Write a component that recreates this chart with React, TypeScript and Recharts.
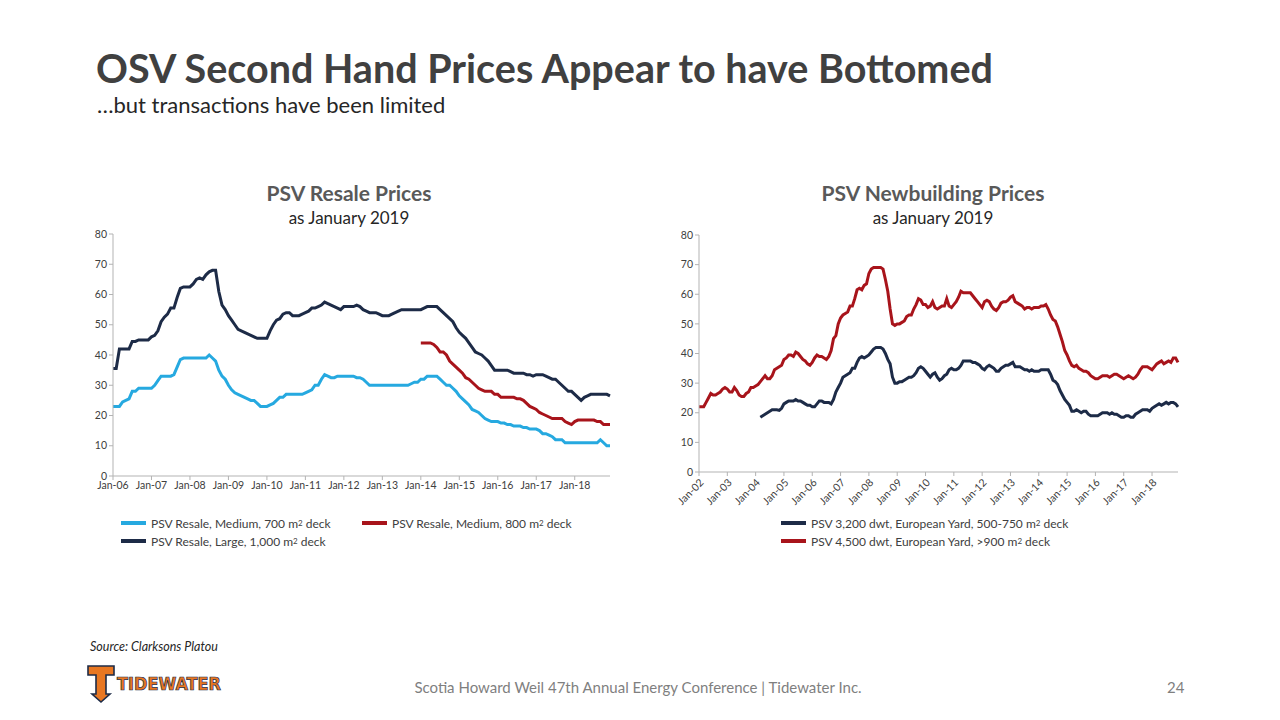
import { LineChart, Line, XAxis, YAxis } from 'recharts'

const MONTHS = ['Jan', 'Feb', 'Mar', 'Apr', 'May', 'Jun', 'Jul', 'Aug', 'Sep', 'Oct', 'Nov', 'Dec']
const resaleYears = [2006, 2007, 2008, 2009, 2010, 2011, 2012, 2013, 2014, 2015, 2016, 2017, 2018]
const newbuildYears = [2002, 2003, 2004, 2005, 2006, 2007, 2008, 2009, 2010, 2011, 2012, 2013, 2014, 2015, 2016, 2017, 2018]
const yTicks = [0, 10, 20, 30, 40, 50, 60, 70, 80]

const monthLabels = (years: number[]) =>
  years.flatMap((y) => MONTHS.map((m) => `${m}-${String(y).slice(2)}`))

// PSV resale prices, US$m, monthly Jan-06 .. Dec-18
const resaleMedium700 = [
  23, 23, 23, 24.5, 25, 25.5, 28, 28, 29, 29, 29, 29,
  29, 30, 31.5, 33, 33, 33, 33, 33.5, 36, 38.5, 39, 39,
  39, 39, 39, 39, 39, 39, 40, 39, 38, 35, 33, 32,
  30, 28.5, 27.5, 27, 26.5, 26, 25.5, 25, 25, 24, 23, 23,
  23, 23.5, 24, 25, 26, 26, 27, 27, 27, 27, 27, 27,
  27.5, 28, 28.5, 30, 30, 32, 33.5, 33, 32.5, 32.5, 33, 33,
  33, 33, 33, 33, 32.5, 32.5, 32, 31, 30, 30, 30, 30,
  30, 30, 30, 30, 30, 30, 30, 30, 30, 30.5, 31, 31,
  32, 32, 33, 33, 33, 33, 32, 31, 30, 30, 29, 28,
  26.5, 25.5, 24.5, 23.5, 22, 21.5, 21, 20, 19, 18.5, 18, 18,
  18, 17.5, 17.5, 17, 17, 16.5, 16.5, 16.5, 16, 16, 15.5, 15.5,
  15.5, 15, 14, 14, 13.5, 13, 12, 12, 12, 11, 11, 11,
  11, 11, 11, 11, 11, 11, 11, 11, 12, 11, 10, 10,
]
const resaleMedium800 = [
  ...Array(96).fill(null),
  44, 44, 44, 44, 43.5, 42.5, 41, 41, 40, 38, 37, 36,
  35, 34, 32.5, 32, 31, 30, 29, 28.5, 28, 28, 28, 27,
  27, 26, 26, 26, 26, 26, 25.5, 25.5, 25, 24, 23, 22.5,
  22, 21, 20.5, 20, 19.5, 19, 19, 19, 19, 18, 17.5, 17,
  18, 18.5, 18.5, 18.5, 18.5, 18.5, 18.5, 18, 18, 17, 17, 17,
]
const resaleLarge1000 = [
  35.5, 35.5, 42, 42, 42, 42, 44.5, 44.5, 45, 45, 45, 45,
  46, 46.5, 48, 51, 52.5, 53.5, 55.5, 55.5, 59, 62, 62.5, 62.5,
  62.5, 63.5, 65, 65.5, 65, 66.5, 67.5, 68, 68, 61, 56.5, 55,
  53, 51.5, 50, 48.5, 48, 47.5, 47, 46.5, 46, 45.5, 45.5, 45.5,
  45.5, 48, 50, 51.5, 52, 53.5, 54, 54, 53, 53, 53, 53.5,
  54, 54.5, 55.5, 55.5, 56, 56.5, 57.5, 57, 56.5, 56, 55.5, 55,
  56, 56, 56, 56, 56.5, 56, 55, 54.5, 54, 54, 54, 53.5,
  53, 53, 53, 53.5, 54, 54.5, 55, 55, 55, 55, 55, 55,
  55, 55.5, 56, 56, 56, 56, 55, 54, 53, 52, 51, 49,
  47.5, 46.5, 45.5, 44, 42.5, 41, 40.5, 40, 39, 38, 36.5, 35,
  35, 35, 35, 35, 34.5, 34, 34, 34, 34, 33.5, 33.5, 33,
  33.5, 33.5, 33.5, 33, 32.5, 32, 32, 31, 30, 29, 28, 28,
  27, 26, 25, 26, 26.5, 27, 27, 27, 27, 27, 27, 26.5,
]

// PSV newbuilding prices, US$m, monthly Jan-02 .. Dec-18
const nb3200 = [
  ...Array(26).fill(null),
  18.5, 19, 19.5, 20, 20.5, 21, 21, 21, 20.8, 21.5,
  23, 23.5, 24, 24, 24, 24.5, 24, 24, 23.5, 23, 22.5, 22.5,
  22, 22, 23, 24, 24, 23.5, 23.5, 23.5, 23, 24.5, 27, 28.5,
  30, 32, 32.5, 33, 33.5, 35, 35, 37, 38.5, 39, 38.5, 39,
  39.5, 40.5, 41.5, 42, 42, 42, 41.5, 40, 38, 36.5, 32, 30,
  30, 30.5, 30.5, 31, 31.5, 32, 32, 32.5, 33.5, 35, 35.5, 35,
  34, 33, 32, 33, 33.5, 32, 31, 31.5, 32.5, 33, 34.5, 35,
  34.5, 34.5, 35, 36, 37.5, 37.5, 37.5, 37.5, 37, 37, 36.5, 36,
  35, 34.5, 35.5, 36, 35.5, 35, 34, 34, 35, 35.5, 36, 36,
  36.5, 37, 35.5, 35.5, 35.5, 35, 34.5, 34.5, 34, 34.5, 34, 34,
  34, 34.5, 34.5, 34.5, 34.5, 33, 31, 30.5, 29.5, 27.5, 26, 24.5,
  23.5, 22.5, 20.5, 20.5, 21, 20.5, 20, 20.5, 20.5, 19.5, 19, 19,
  19, 19, 19.5, 20, 20, 20, 19.5, 20, 19.5, 19.5, 19, 18.5,
  18.5, 19, 19, 18.5, 18.5, 19.5, 20, 20.5, 21, 21, 21, 20.5,
  21.5, 22, 22.5, 23, 22.5, 23, 23.5, 23, 23.5, 23.5, 23, 22,
]
const nb4500 = [
  22, 22, 22, 23.5, 25, 26.5, 26, 26, 26.5, 27, 28, 28.5,
  28, 27, 27, 28.5, 27.5, 26, 25.5, 25.5, 26.5, 27, 28.5, 28.5,
  29, 29.5, 30.5, 31.5, 32.5, 31.5, 31.5, 32.5, 34.5, 35, 35.5, 36,
  38, 38.5, 39.5, 39.5, 39, 40.5, 40, 39, 38, 37.5, 36.5, 36,
  37, 38.5, 39.5, 39, 39, 38.5, 38, 39, 41, 45, 46, 50,
  52, 53, 53.5, 54, 56, 56, 58.5, 61.5, 62, 61.5, 63, 63.5,
  67, 68.5, 69, 69, 69, 69, 68.5, 65, 61, 55, 50, 49.5,
  50, 50, 50.5, 51, 52.5, 53, 53, 55, 56.5, 58.5, 58, 56.5,
  56.5, 55.5, 56, 57.5, 55.5, 55, 55.5, 56, 56, 58.5, 56, 55.5,
  56.5, 57.5, 59, 61, 60.5, 60.5, 60.5, 60.5, 59.5, 58.5, 57.5, 56.5,
  55.5, 57.5, 58, 57.5, 56, 55, 54.5, 55.5, 57, 57.5, 57.5, 58,
  59, 59.5, 57.5, 57, 56.5, 56, 55, 55.5, 55.5, 55, 55.5, 55.5,
  55.5, 56, 56, 56.5, 55, 53, 51.5, 51, 49, 46.5, 44, 41,
  39.5, 37.5, 36, 35.5, 36, 35, 34.5, 34, 34, 33.5, 32.5, 32,
  31.5, 31.5, 32, 32.5, 32.5, 32.5, 32, 32.5, 33, 33, 32.5, 32,
  31.5, 32, 32.5, 32, 31.5, 32, 33, 34.5, 35.5, 35.5, 35.5, 35,
  34.5, 35.5, 36.5, 37, 37.5, 36.5, 37, 37.5, 37, 38.5, 38.5, 37,
]

const resaleData = monthLabels(resaleYears).map((month, i) => ({
  month,
  medium700: resaleMedium700[i],
  medium800: resaleMedium800[i],
  large1000: resaleLarge1000[i],
}))
const newbuildData = monthLabels(newbuildYears).map((month, i) => ({
  month,
  nb3200: nb3200[i],
  nb4500: nb4500[i],
}))

const FONT = 'Lato, "Open Sans", sans-serif'
const CYAN = '#26a9e0'
const NAVY = '#1d2b47'
const RED = '#a8141b'
const ORANGE = '#e87722'
const AXIS = '#b3b3b3'
const TICK = { fontFamily: FONT, fontSize: 10.5, fill: '#404040' }

function ChartTitle({ x, title }: { x: number; title: string }) {
  return (
    <div style={{ position: 'absolute', left: x - 200, top: 180, width: 400, textAlign: 'center', fontFamily: FONT }}>
      <div style={{ fontSize: 21, fontWeight: 700, lineHeight: '26px', color: '#595959' }}>{title}</div>
      <div style={{ fontSize: 17, lineHeight: '24px', color: '#262626' }}>as January 2019</div>
    </div>
  )
}

function LegendItem({ x, y, color, children }: { x: number; y: number; color: string; children: React.ReactNode }) {
  return (
    <div style={{ position: 'absolute', left: x, top: y - 8, height: 16, display: 'flex', alignItems: 'center', fontFamily: FONT, fontSize: 12, color: '#404040', whiteSpace: 'pre' }}>
      <span style={{ display: 'inline-block', width: 25, height: 4, background: color, marginRight: 5 }} />
      {children}
    </div>
  )
}

const m2 = <>m<sup style={{ fontSize: 8, verticalAlign: 4 }}>2</sup></>

function Logo() {
  return (
    <svg width={145} height={42} style={{ position: 'absolute', left: 85, top: 663 }}>
      <path d="M3 3 H29 V12 H21 V31 H25 L16 39 L7 31 H11 V12 H3 Z" fill={ORANGE} stroke={NAVY} strokeWidth={1.6} />
      <text x={32} y={27} textLength={104} lengthAdjust="spacingAndGlyphs" fontFamily="'DejaVu Sans Condensed', 'DejaVu Sans', sans-serif" fontWeight={700} fontSize={18} fill={ORANGE} stroke={NAVY} strokeWidth={0.7}>TIDEWATER</text>
    </svg>
  )
}

export default function App() {
  return (
    <div style={{ position: 'absolute', left: 0, top: 0, width: 1280, height: 720, background: '#fff', overflow: 'hidden' }}>
      <div style={{ position: 'absolute', left: 96, top: 44, fontFamily: FONT, fontWeight: 700, fontSize: 39.5, color: '#404040', whiteSpace: 'nowrap' }}>
        OSV Second Hand Prices Appear to have Bottomed
      </div>
      <div style={{ position: 'absolute', left: 97, top: 91, fontFamily: FONT, fontSize: 22, color: '#262626', whiteSpace: 'nowrap' }}>
        …but transactions have been limited
      </div>

      <ChartTitle x={349} title="PSV Resale Prices" />
      <ChartTitle x={933} title="PSV Newbuilding Prices" />

      <div style={{ position: 'absolute', left: 63, top: 224 }}>
        <LineChart width={552} height={282} data={resaleData} margin={{ top: 10, right: 5, bottom: 0, left: 0 }}>
          <XAxis dataKey="month" interval={11} tick={TICK} stroke={AXIS} tickSize={4} height={30} />
          <YAxis domain={[0, 80]} ticks={yTicks} tick={TICK} stroke={AXIS} tickSize={4} width={50} />
          <Line dataKey="medium700" stroke={CYAN} strokeWidth={3} dot={false} isAnimationActive={false} />
          <Line dataKey="medium800" stroke={RED} strokeWidth={3} dot={false} isAnimationActive={false} />
          <Line dataKey="large1000" stroke={NAVY} strokeWidth={3} dot={false} isAnimationActive={false} />
        </LineChart>
      </div>

      <div style={{ position: 'absolute', left: 649, top: 225 }}>
        <LineChart width={534} height={297} data={newbuildData} margin={{ top: 10, right: 5, bottom: 0, left: 0 }}>
          <XAxis dataKey="month" interval={11} tick={TICK} angle={-45} textAnchor="end" stroke={AXIS} tickSize={4} height={50} />
          <YAxis domain={[0, 80]} ticks={yTicks} tick={TICK} stroke={AXIS} tickSize={4} width={50} />
          <Line dataKey="nb3200" stroke={NAVY} strokeWidth={3} dot={false} isAnimationActive={false} />
          <Line dataKey="nb4500" stroke={RED} strokeWidth={3} dot={false} isAnimationActive={false} />
        </LineChart>
      </div>

      <LegendItem x={121} y={523} color={CYAN}>PSV Resale, Medium, 700 {m2} deck</LegendItem>
      <LegendItem x={362} y={523} color={RED}>PSV Resale, Medium, 800 {m2} deck</LegendItem>
      <LegendItem x={121} y={541} color={NAVY}>PSV Resale, Large, 1,000 {m2} deck</LegendItem>
      <LegendItem x={781} y={523} color={NAVY}>PSV 3,200 dwt, European Yard, 500-750 {m2} deck</LegendItem>
      <LegendItem x={781} y={541} color={RED}>PSV 4,500 dwt, European Yard, &gt;900 {m2} deck</LegendItem>

      <div style={{ position: 'absolute', left: 90, top: 639, fontFamily: FONT, fontSize: 12.5, fontStyle: 'italic', color: '#262626' }}>
        Source: Clarksons Platou
      </div>
      <Logo />
      <div style={{ position: 'absolute', left: 338, top: 678, width: 600, textAlign: 'center', fontFamily: FONT, fontSize: 15, color: '#7f7f7f', whiteSpace: 'nowrap' }}>
        Scotia Howard Weil 47th Annual Energy Conference | Tidewater Inc.
      </div>
      <div style={{ position: 'absolute', left: 1167, top: 678, fontFamily: FONT, fontSize: 15, color: '#7f7f7f' }}>24</div>
    </div>
  )
}
